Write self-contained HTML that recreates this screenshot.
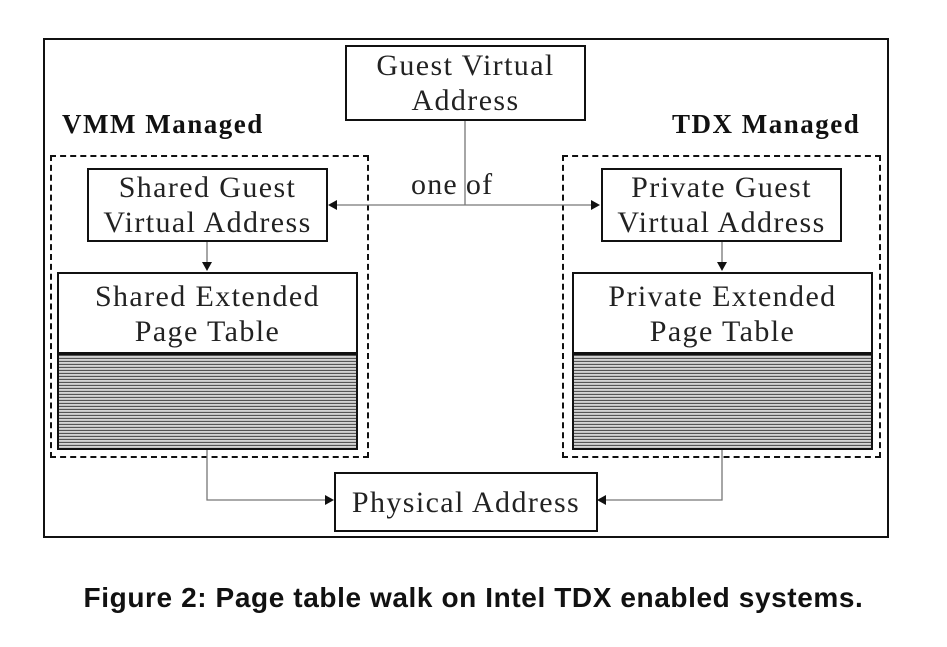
<!DOCTYPE html>
<html><head><style>
body{margin:0;background:#fff;width:947px;height:647px;position:relative;overflow:hidden}
.a{position:absolute;box-sizing:border-box}
.box{border:2px solid #111;background:#fff;font-family:"Liberation Serif",serif;font-size:30px;letter-spacing:1.4px;color:#222;text-align:center;line-height:35px;display:flex;flex-direction:column;justify-content:center;white-space:nowrap}
.dash{border:2px dashed #111}
.stripes{background:repeating-linear-gradient(to bottom,#555 0px,#555 1px,#ddd 1px,#bbb 3px);border:2px solid #111;border-top:3px solid #111}
.lbl{font-family:"Liberation Serif",serif;font-weight:bold;font-size:27px;letter-spacing:1.5px;color:#111}
</style></head><body>
<div class="a" style="left:43px;top:38px;width:846px;height:500px;border:2px solid #111"></div>
<div class="a dash" style="left:50px;top:155px;width:319px;height:303px"></div>
<div class="a dash" style="left:562px;top:155px;width:319px;height:303px"></div>
<svg class="a" style="left:0;top:0" width="947" height="647">
<g stroke="#777" stroke-width="1.3" fill="none">
<path d="M465 120 V205 M330 205 H598"/>
<path d="M207 241 V268 M722 241 V268"/>
<path d="M207 449 V500 H330 M722 449 V500 H600"/>
</g>
<g fill="#111">
<path d="M328 205 l9 -5 v10z"/><path d="M600 205 l-9 -5 v10z"/>
<path d="M207 271 l-5 -9 h10z"/><path d="M722 271 l-5 -9 h10z"/>
<path d="M334 500 l-9 -5 v10z"/><path d="M597 500 l9 -5 v10z"/>
</g>
</svg>
<div class="a box" style="left:345px;top:45px;width:241px;height:76px">Guest Virtual<br>Address</div>
<div class="a box" style="left:87px;top:168px;width:241px;height:74px">Shared Guest<br>Virtual Address</div>
<div class="a box" style="left:601px;top:168px;width:241px;height:74px">Private Guest<br>Virtual Address</div>
<div class="a box" style="left:57px;top:272px;width:301px;height:82px;border-bottom:none">Shared Extended<br>Page Table</div>
<div class="a stripes" style="left:57px;top:352px;width:301px;height:98px"></div>
<div class="a box" style="left:572px;top:272px;width:301px;height:82px;border-bottom:none">Private Extended<br>Page Table</div>
<div class="a stripes" style="left:572px;top:352px;width:301px;height:98px"></div>
<div class="a box" style="left:334px;top:472px;width:264px;height:60px">Physical Address</div>
<div class="a" style="left:411px;top:168px;font-family:'Liberation Serif',serif;font-size:30px;letter-spacing:1.2px;color:#222;line-height:34px">one<span style="display:inline-block;width:8px"></span>of</div>
<div class="a lbl" style="left:62px;top:109px">VMM Managed</div>
<div class="a lbl" style="left:672px;top:109px">TDX Managed</div>
<div class="a" style="left:0;width:947px;top:582px;text-align:center;font-family:'Liberation Sans',sans-serif;font-weight:bold;font-size:28px;letter-spacing:0.6px;color:#111">Figure 2: Page table walk on Intel TDX enabled systems.</div>
</body></html>
